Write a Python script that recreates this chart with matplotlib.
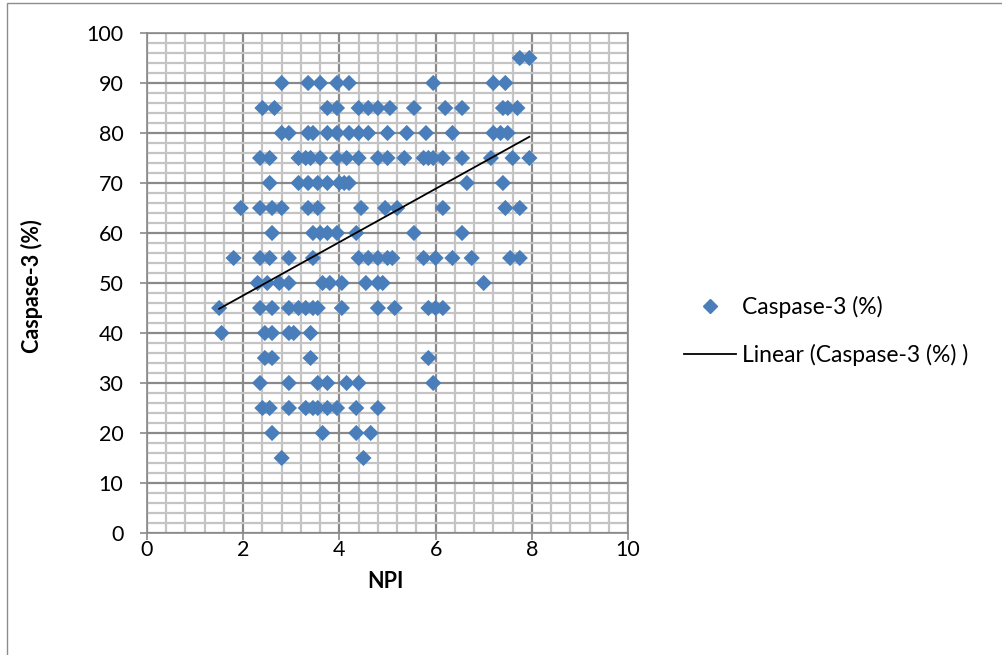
import numpy as np
import matplotlib
matplotlib.use("Agg")
import matplotlib.pyplot as plt
from matplotlib.ticker import MultipleLocator
from matplotlib.lines import Line2D
from matplotlib.patches import Rectangle

plt.rcParams['font.family'] = ['Lato', 'DejaVu Sans']

# Caspase-3 levels (rows) and the NPI values of the points on each row
caspase_levels = [95, 90, 85, 80, 75, 70, 65, 60, 55, 50, 45, 40, 35, 30, 25, 20, 15]
npi_rows = [
    [7.75, 7.95],
    [2.8, 3.35, 3.6, 3.95, 4.2, 5.95, 7.2, 7.45],
    [2.4, 2.65, 3.75, 3.95, 4.4, 4.6, 4.8, 5.05, 5.55, 6.2, 6.55, 7.4, 7.5, 7.7],
    [2.8, 2.95, 3.35, 3.45, 3.75, 3.95, 4.2, 4.4, 4.6, 5.0, 5.4, 5.8, 6.35, 7.2, 7.35, 7.5],
    [2.35, 2.55, 3.15, 3.3, 3.4, 3.6, 3.95, 4.15, 4.4, 4.8, 5.0, 5.35, 5.75, 5.85, 5.95, 6.15, 6.55, 7.15, 7.6, 7.95],
    [2.55, 3.15, 3.35, 3.55, 3.75, 4.0, 4.1, 4.2, 6.65, 7.4],
    [1.95, 2.35, 2.6, 2.8, 3.35, 3.55, 4.45, 4.95, 5.2, 6.15, 7.45, 7.75],
    [2.6, 3.45, 3.6, 3.75, 3.95, 4.35, 5.55, 6.55],
    [1.8, 2.35, 2.55, 2.95, 3.45, 4.4, 4.6, 4.8, 5.0, 5.1, 5.75, 6.0, 6.35, 6.75, 7.55, 7.75],
    [2.3, 2.5, 2.75, 2.95, 3.65, 3.8, 4.05, 4.55, 4.8, 4.9, 7.0],
    [1.5, 2.35, 2.6, 2.95, 3.15, 3.3, 3.45, 3.55, 4.05, 4.8, 5.15, 5.85, 6.0, 6.15],
    [1.55, 2.45, 2.6, 2.95, 3.05, 3.4],
    [2.45, 2.6, 3.4, 5.85],
    [2.35, 2.95, 3.55, 3.75, 4.15, 4.4, 5.95],
    [2.4, 2.55, 2.95, 3.3, 3.45, 3.55, 3.75, 3.95, 4.35, 4.8],
    [2.6, 3.65, 4.35, 4.65],
    [2.8, 4.5],
]

# linear trendline (slope, intercept)
trend_slope = 5.334
trend_intercept = 36.84

x_ticks = [0, 2, 4, 6, 8, 10]
y_ticks = [0, 10, 20, 30, 40, 50, 60, 70, 80, 90, 100]
x_label = "NPI"
y_label = "Caspase-3 (%)"
series_name = "Caspase-3 (%)"
trend_name = "Linear (Caspase-3 (%) )"

npi = np.array([x for row in npi_rows for x in row])
caspase = np.array([lvl for lvl, row in zip(caspase_levels, npi_rows) for _ in row])

W, H = 1003, 655
fig = plt.figure(figsize=(W / 100, H / 100), dpi=100)
fig.patches.append(Rectangle((7 / W, -0.01), 1.02, 1 - 3 / H + 0.01, transform=fig.transFigure,
                             fill=False, edgecolor='#8c8c8c', linewidth=1.0))
ax = fig.add_axes([147 / W, 1 - 533 / H, (628 - 147) / W, (533 - 33) / H])

ax.set_xlim(0, 10)
ax.set_ylim(0, 100)
ax.set_xticks(x_ticks)
ax.set_yticks(y_ticks)
ax.xaxis.set_minor_locator(MultipleLocator(0.4))
ax.yaxis.set_minor_locator(MultipleLocator(2))
ax.grid(True, which='minor', color='#c4c4c4', linewidth=1.6, zorder=0)
ax.grid(True, which='major', color='#8a8a8a', linewidth=1.6, zorder=0.5)
ax.set_axisbelow(True)
for sp in ax.spines.values():
    sp.set_color('#8a8a8a')
    sp.set_linewidth(1.2)
ax.tick_params(which='major', direction='out', length=5, color='#8a8a8a', width=1.2,
               labelsize=15.5, labelcolor='black')
ax.tick_params(axis='y', which='major', pad=12)
ax.tick_params(axis='x', which='major', pad=0)
ax.tick_params(which='minor', length=0)

ax.scatter(npi, caspase, marker='D', s=68, color='#4a7ebb', edgecolors='none', zorder=3)

xs = np.array([npi.min(), npi.max()])
ax.plot(xs, trend_slope * xs + trend_intercept, color='black', linewidth=1.3, zorder=4)

ax.set_xlabel(x_label, fontsize=15.5, fontweight='bold')
ax.set_ylabel(y_label, fontsize=15.5, fontweight='bold')
ax.xaxis.set_label_coords((385 - 147) / 481, -(571 - 533) / 500)
ax.yaxis.set_label_coords(-(147 - 43) / 481, 0.494)

handles = [Line2D([], [], marker='D', linestyle='none', color='#4a7ebb', markersize=7.5),
           Line2D([], [], color='black', linewidth=1.3)]
fig.legend(handles, [series_name, trend_name], loc='center left',
           bbox_to_anchor=(663 / W, 1 - 331 / H), frameon=False, fontsize=16.5,
           handlelength=2.3, handletextpad=0.25, labelspacing=1.15, borderpad=0.4)

fig.savefig("out.png", dpi=100)
